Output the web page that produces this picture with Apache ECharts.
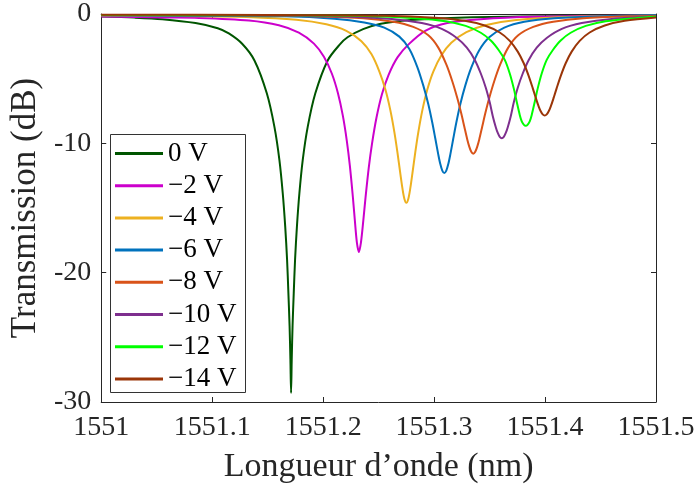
<!DOCTYPE html>
<html>
<head>
<meta charset="utf-8">
<script src="https://cdn.jsdelivr.net/npm/echarts@6/dist/echarts.min.js"></script>
<style>
html,body{margin:0;padding:0;background:#fff;}
#chart{width:700px;height:489px;}
</style>
</head>
<body>
<div id="chart"></div>
<script>
// ---- Data ----
const xTickLabels = ['1551', '1551.1', '1551.2', '1551.3', '1551.4', '1551.5'];
const yTickLabels = ['-30', '-20', '-10', '0'];
const seriesNames = ['0 V', '\u22122 V', '\u22124 V', '\u22126 V', '\u22128 V', '\u221210 V', '\u221212 V', '\u221214 V'];

const wl_0V = [1551.000, 1551.030, 1551.055, 1551.085, 1551.105, 1551.115, 1551.127, 1551.1381, 1551.1493, 1551.1561, 1551.1606, 1551.1636, 1551.1658, 1551.1675, 1551.1687, 1551.16975, 1551.1705, 1551.1711, 1551.1717, 1551.17245, 1551.1735, 1551.1747, 1551.1764, 1551.1786, 1551.1816, 1551.1861, 1551.1929, 1551.2041, 1551.2151, 1551.222, 1551.236, 1551.252, 1551.279, 1551.315, 1551.378, 1551.5];
const db_0V = [-0.2, -0.28, -0.4, -0.7, -1.1, -1.5, -2.3, -3.59, -6.15, -8.73, -11.3, -13.86, -16.4, -19.0, -21.6, -24.1, -26.7, -29.3, -26.7, -24.1, -21.6, -19.0, -16.4, -13.86, -11.3, -8.73, -6.15, -3.59, -2.35, -1.8, -1.17, -0.75, -0.46, -0.3, -0.2, -0.12];

const wl_m2V = [1551.000, 1551.055, 1551.0881, 1551.1331, 1551.1601, 1551.1781, 1551.1917, 1551.2007, 1551.2079, 1551.2133, 1551.2178, 1551.2214, 1551.2241, 1551.2268, 1551.2286, 1551.2304, 1551.2322, 1551.2341, 1551.2362, 1551.2382, 1551.2411, 1551.2441, 1551.2481, 1551.2530, 1551.2590, 1551.2670, 1551.2770, 1551.2920, 1551.3120, 1551.3420, 1551.3900, 1551.5];
const db_m2V = [-0.2, -0.27, -0.3, -0.5, -0.87, -1.44, -2.29, -3.31, -4.62, -6.11, -7.88, -9.84, -11.75, -14.15, -15.98, -17.65, -18.4, -17.65, -15.98, -14.2, -11.9, -10.0, -8.0, -6.2, -4.7, -3.35, -2.35, -1.3, -0.7, -0.4, -0.22, -0.12];

const wl_m4V = [1551.000, 1551.090, 1551.131, 1551.1759, 1551.2029, 1551.2209, 1551.2345, 1551.2435, 1551.2507, 1551.2561, 1551.2606, 1551.2642, 1551.2669, 1551.2696, 1551.2714, 1551.2732, 1551.2750, 1551.2768, 1551.2786, 1551.2804, 1551.2831, 1551.2858, 1551.2894, 1551.2939, 1551.2993, 1551.3065, 1551.3155, 1551.3291, 1551.3471, 1551.3741, 1551.4191, 1551.5];
const db_m4V = [-0.12, -0.17, -0.23, -0.45, -0.8, -1.3, -2.1, -3.1, -4.45, -5.84, -7.45, -9.13, -10.66, -12.36, -13.45, -14.28, -14.6, -14.28, -13.45, -12.36, -10.66, -9.13, -7.45, -5.84, -4.45, -3.21, -2.23, -1.4, -0.85, -0.47, -0.23, -0.12];

const wl_m6V = [1551.000, 1551.100, 1551.1651, 1551.2101, 1551.2371, 1551.2551, 1551.2687, 1551.2777, 1551.2849, 1551.2903, 1551.2948, 1551.2984, 1551.3011, 1551.3038, 1551.3056, 1551.3074, 1551.3092, 1551.3110, 1551.3128, 1551.3146, 1551.3173, 1551.3200, 1551.3236, 1551.3281, 1551.3335, 1551.3407, 1551.3497, 1551.3633, 1551.3813, 1551.4083, 1551.4533, 1551.5];
const db_m6V = [-0.1, -0.15, -0.18, -0.36, -0.65, -1.05, -1.75, -2.7, -4.1, -5.54, -6.98, -8.41, -9.63, -10.87, -11.6, -12.11, -12.3, -12.11, -11.6, -10.87, -9.63, -8.41, -6.98, -5.54, -4.15, -2.8, -1.8, -1.05, -0.6, -0.33, -0.17, -0.1];

const wl_m8V = [1551.000, 1551.150, 1551.1912, 1551.2362, 1551.2632, 1551.2812, 1551.2948, 1551.3038, 1551.3110, 1551.3164, 1551.3209, 1551.3245, 1551.3272, 1551.3299, 1551.3317, 1551.3335, 1551.3353, 1551.3371, 1551.3389, 1551.3407, 1551.3434, 1551.3461, 1551.3497, 1551.3542, 1551.3596, 1551.3668, 1551.3758, 1551.3894, 1551.4074, 1551.4344, 1551.4794, 1551.5];
const db_m8V = [-0.08, -0.12, -0.17, -0.33, -0.6, -1.0, -1.65, -2.6, -3.9, -5.2, -6.5, -7.7, -8.7, -9.7, -10.25, -10.65, -10.8, -10.65, -10.25, -9.7, -8.7, -7.7, -6.5, -5.2, -3.9, -2.6, -1.65, -1.0, -0.6, -0.33, -0.17, -0.15];

const wl_m10V = [1551.000, 1551.150, 1551.2169, 1551.2619, 1551.2889, 1551.3069, 1551.3205, 1551.3295, 1551.3367, 1551.3421, 1551.3466, 1551.3502, 1551.3529, 1551.3556, 1551.3574, 1551.3592, 1551.3610, 1551.3628, 1551.3646, 1551.3664, 1551.3691, 1551.3718, 1551.3754, 1551.3799, 1551.3853, 1551.3925, 1551.4015, 1551.4151, 1551.4331, 1551.4601, 1551.5];
const db_m10V = [-0.08, -0.13, -0.19, -0.38, -0.7, -1.15, -1.85, -2.6, -3.55, -4.6, -5.7, -6.85, -7.9, -8.75, -9.2, -9.5, -9.6, -9.5, -9.2, -8.75, -7.9, -6.85, -5.7, -4.6, -3.55, -2.6, -1.85, -1.15, -0.7, -0.38, -0.2];

const wl_m12V = [1551.000, 1551.150, 1551.2385, 1551.2835, 1551.3105, 1551.3285, 1551.3421, 1551.3511, 1551.3583, 1551.3637, 1551.3682, 1551.3718, 1551.3745, 1551.3772, 1551.3790, 1551.3808, 1551.3826, 1551.3844, 1551.3862, 1551.3880, 1551.3907, 1551.3934, 1551.3970, 1551.4015, 1551.4069, 1551.4141, 1551.4231, 1551.4367, 1551.4547, 1551.4817, 1551.5];
const db_m12V = [-0.08, -0.1, -0.15, -0.32, -0.56, -0.92, -1.45, -2.05, -2.8, -3.55, -4.6, -5.75, -6.8, -7.8, -8.3, -8.55, -8.65, -8.55, -8.3, -7.8, -6.8, -5.75, -4.6, -3.55, -2.8, -2.05, -1.45, -0.92, -0.56, -0.32, -0.22];

const wl_m14V = [1551.000, 1551.150, 1551.2556, 1551.3006, 1551.3276, 1551.3456, 1551.3592, 1551.3682, 1551.3754, 1551.3808, 1551.3853, 1551.3889, 1551.3916, 1551.3943, 1551.3961, 1551.3979, 1551.3997, 1551.4015, 1551.4033, 1551.4051, 1551.4078, 1551.4105, 1551.4141, 1551.4186, 1551.4240, 1551.4312, 1551.4402, 1551.4538, 1551.4718, 1551.5];
const db_m14V = [-0.05, -0.08, -0.14, -0.29, -0.53, -0.89, -1.43, -2.08, -2.91, -3.81, -4.8, -5.73, -6.47, -7.16, -7.52, -7.76, -7.85, -7.76, -7.52, -7.16, -6.47, -5.73, -4.8, -3.81, -2.91, -2.08, -1.43, -0.89, -0.53, -0.28];

const seriesColors = ['#005500', '#cc00cc', '#edb120', '#0072bd', '#d95319', '#7e2f8e', '#00ff00', '#9a3508'];

// ---- Build chart ----
const allWl = [wl_0V, wl_m2V, wl_m4V, wl_m6V, wl_m8V, wl_m10V, wl_m12V, wl_m14V];
const allDb = [db_0V, db_m2V, db_m4V, db_m6V, db_m8V, db_m10V, db_m12V, db_m14V];

const serif = 'Liberation Serif';
const axisColor = '#262626';

const series = seriesNames.map((name, i) => ({
  name: name,
  type: 'line',
  data: allWl[i].map((x, j) => [x, allDb[i][j]]),
  showSymbol: false,
  smooth: 0.3,
  lineStyle: { width: 2, color: seriesColors[i] },
  itemStyle: { color: seriesColors[i] },
  z: 2,
  animation: false
}));

const tickStyle = { show: true, inside: true, length: 5, lineStyle: { color: axisColor, width: 1 } };
const lineStyleAxis = { show: true, onZero: false, lineStyle: { color: axisColor, width: 1 } };

const option = {
  animation: false,
  backgroundColor: '#ffffff',
  grid: { left: 100, right: 44, top: 14, bottom: 86, containLabel: false },
  xAxis: [
    {
      type: 'value', min: 1551, max: 1551.5, interval: 0.1, position: 'bottom',
      axisLine: lineStyleAxis, axisTick: tickStyle, splitLine: { show: false },
      axisLabel: {
        margin: 12, color: axisColor, fontFamily: serif, fontSize: 28,
        formatter: function (v) { return xTickLabels[Math.round((v - 1551) * 10)]; }
      },
      name: 'Longueur d\u2019onde (nm)', nameLocation: 'middle', nameGap: 48,
      nameTextStyle: { fontFamily: serif, fontSize: 34, color: axisColor }
    },
    {
      type: 'value', min: 1551, max: 1551.5, interval: 0.1, position: 'top',
      axisLine: lineStyleAxis, axisTick: tickStyle, splitLine: { show: false },
      axisLabel: { show: false }
    }
  ],
  yAxis: [
    {
      type: 'value', min: -30, max: 0, interval: 10, position: 'left',
      axisLine: lineStyleAxis, axisTick: tickStyle, splitLine: { show: false },
      axisLabel: {
        margin: 10, color: axisColor, fontFamily: serif, fontSize: 28,
        formatter: function (v) { return yTickLabels[Math.round((v + 30) / 10)]; }
      },
      name: 'Transmission (dB)', nameLocation: 'middle', nameGap: 55, nameRotate: 90,
      nameTextStyle: { fontFamily: serif, fontSize: 35, color: axisColor }
    },
    {
      type: 'value', min: -30, max: 0, interval: 10, position: 'right',
      axisLine: lineStyleAxis, axisTick: tickStyle, splitLine: { show: false },
      axisLabel: { show: false }
    }
  ],
  legend: {
    data: seriesNames,
    orient: 'vertical',
    left: 115, top: 140,
    padding: 0,
    itemWidth: 48, itemHeight: 3, itemGap: 5.2,
    icon: 'rect',
    z: 4,
    textStyle: { fontFamily: serif, fontSize: 27, lineHeight: 24, color: '#000' }
  },
  graphic: [
    {
      type: 'rect', z: 3,
      shape: { x: 110.5, y: 134.5, width: 135, height: 258 },
      style: { fill: '#ffffff', stroke: '#333333', lineWidth: 1 }
    }
  ],
  series: series
};

const chart = echarts.init(document.getElementById('chart'), null, { renderer: 'canvas' });
chart.setOption(option);
</script>
</body>
</html>
